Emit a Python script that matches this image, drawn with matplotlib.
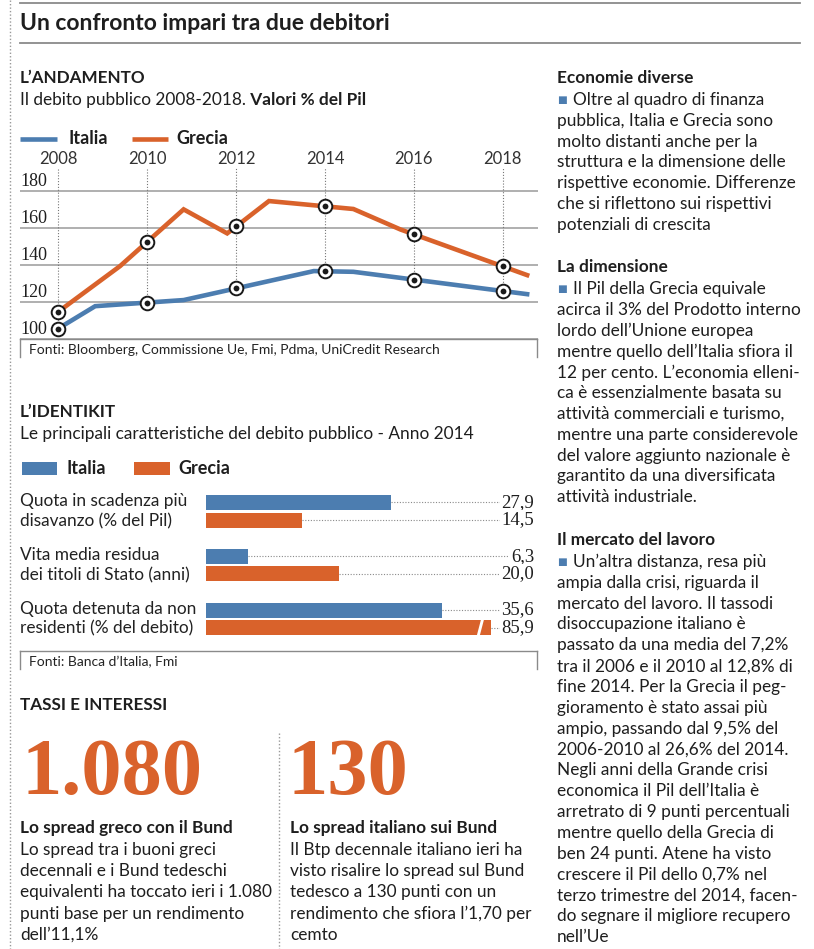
import matplotlib
matplotlib.use('Agg')
import matplotlib.pyplot as plt
from matplotlib import transforms
from matplotlib.lines import Line2D
from matplotlib.patches import Rectangle, Polygon
import numpy as np

W, H = 814, 949

# --- L'ANDAMENTO: debito pubblico, valori % del Pil (vertici)
italia_x = [2008, 2008.83, 2010.82, 2013.75, 2014.64, 2018.55]
italia_y = [105.4, 117.5, 120.8, 136.5, 136.1, 124.0]
grecia_x = [2008, 2009.39, 2010.82, 2011.8, 2012.74, 2014.64, 2015.7, 2018.55]
grecia_y = [114.5, 139.2, 169.9, 156.9, 174.4, 170.1, 159.0, 134.3]
anni_tick = [2008, 2010, 2012, 2014, 2016, 2018]
y_ticks = [100, 120, 140, 160, 180]

# --- L'IDENTIKIT: anno 2014
voci = [("Quota in scadenza più", "disavanzo (% del Pil)"),
        ("Vita media residua", "dei titoli di Stato (anni)"),
        ("Quota detenuta da non", "residenti (% del debito)")]
val_italia = [27.9, 6.3, 35.6]
val_grecia = [14.5, 20.0, 85.9]

# --- testi
col_destra = [
    ("Economie diverse", [
        "Oltre al quadro di finanza",
        "pubblica, Italia e Grecia sono",
        "molto distanti anche per la",
        "struttura e la dimensione delle",
        "rispettive economie. Differenze",
        "che si riflettono sui rispettivi",
        "potenziali di crescita"]),
    ("La dimensione", [
        "Il Pil della Grecia equivale",
        "acirca il 3% del Prodotto interno",
        "lordo dell’Unione europea",
        "mentre quello dell’Italia sfiora il",
        "12 per cento. L’economia elleni-",
        "ca è essenzialmente basata su",
        "attività commerciali e turismo,",
        "mentre una parte considerevole",
        "del valore aggiunto nazionale è",
        "garantito da una diversificata",
        "attività industriale."]),
    ("Il mercato del lavoro", [
        "Un’altra distanza, resa più",
        "ampia dalla crisi, riguarda il",
        "mercato del lavoro. Il tassodi",
        "disoccupazione italiano è",
        "passato da una media del 7,2%",
        "tra il 2006 e il 2010 al 12,8% di",
        "fine 2014. Per la Grecia il peg-",
        "gioramento è stato assai più",
        "ampio, passando dal 9,5% del",
        "2006-2010 al 26,6% del 2014.",
        "Negli anni della Grande crisi",
        "economica il Pil dell’Italia è",
        "arretrato di 9 punti percentuali",
        "mentre quello della Grecia di",
        "ben 24 punti. Atene ha visto",
        "crescere il Pil dello 0,7% nel",
        "terzo trimestre del 2014, facen-",
        "do segnare il migliore recupero",
        "nell’Ue"]),
]
spread_greco = ["Lo spread tra i buoni greci",
                "decennali e i Bund tedeschi",
                "equivalenti ha toccato ieri i 1.080",
                "punti base per un rendimento",
                "dell’11,1%"]
spread_italia = ["Il Btp decennale italiano ieri ha",
                 "visto risalire lo spread sul Bund",
                 "tedesco a 130 punti con un",
                 "rendimento che sfiora l’1,70 per",
                 "cemto"]

BLUE = '#4c7db0'
ORANGE = '#d9622b'
DARK = '#1e1e1e'
GRID = '#9a9a9a'
SANS = ['Lato', 'DejaVu Sans']
SERIF = ['Liberation Serif', 'DejaVu Serif']
BODY = 12.4
HEAD = 12.3


def fx(x):
    return x / W


def fy(y):
    return 1 - y / H


fig = plt.figure(figsize=(W / 100, H / 100), dpi=100)


def txt(x, y, s, size=BODY, weight='normal', color=DARK, family=SANS, **kw):
    kw.setdefault('va', 'center')
    return fig.text(fx(x), fy(y), s, fontsize=size, fontweight=weight,
                    color=color, family=family, **kw)


def hline(x0, x1, y, **kw):
    fig.add_artist(Line2D([fx(x0), fx(x1)], [fy(y), fy(y)], **kw))


def vline(x, y0, y1, **kw):
    fig.add_artist(Line2D([fx(x), fx(x)], [fy(y0), fy(y1)], **kw))


# cornice
vline(10, 0, H, color='#999999', lw=1, ls=(0, (1, 1.5)))
hline(20, 800, 3, color='#8a8a8a', lw=1.3)
hline(20, 800, 43, color='#8a8a8a', lw=1.3)
txt(20, 23, "Un confronto impari tra due debitori", size=16.5, weight='bold')

# ---------------- L'ANDAMENTO
txt(20, 78, "L’ANDAMENTO", size=HEAD, weight='bold')
t1 = txt(20, 100, "Il debito pubblico 2008-2018.")
fig.add_artist(plt.Annotation(" Valori % del Pil", xy=(1, 0), xycoords=t1,
                              va='bottom', ha='left', fontsize=BODY,
                              fontweight='bold', color=DARK, family=SANS))

hline(20, 57, 139, color=BLUE, lw=3.3, solid_capstyle='butt')
txt(68, 139, "Italia", size=13, weight='bold')
hline(132, 168, 139, color=ORANGE, lw=3.3, solid_capstyle='butt')
txt(176, 139, "Grecia", size=13, weight='bold')

top_px, bot_px = 168, 338.5
ax = fig.add_axes([fx(20), fy(bot_px), fx(540) - fx(20), (bot_px - top_px) / H])
x0 = 2008 + (20 - 58.3) / 44.44
x1 = 2008 + (540 - 58.3) / 44.44
ax.set_xlim(x0, x1)
ymax = 100 + (bot_px - top_px) / 1.8475
ax.set_ylim(100, ymax)
for s in ax.spines.values():
    s.set_visible(False)
ax.set_yticks([])
ax.set_xticks(anni_tick)
ax.xaxis.tick_top()
ax.tick_params(axis='x', length=0, pad=1, labelsize=12, labelcolor='#333333')
for lab in ax.get_xticklabels():
    lab.set_family(SANS)

ax.hlines(y_ticks, x0, 2008 + (538 - 58.3) / 44.44, color=GRID, lw=1.1, zorder=1)
ylab_tr = transforms.offset_copy(
    transforms.blended_transform_factory(ax.transAxes, ax.transData),
    fig=fig, x=0, y=3.5, units='points')
for v in y_ticks:
    ax.text(0, v, str(v), transform=ylab_tr, va='baseline', ha='left',
            fontsize=13, family=SERIF, color=DARK)

ita_m = np.interp(anni_tick, italia_x, italia_y)
gre_m = np.interp(anni_tick, grecia_x, grecia_y)
ax.vlines(anni_tick, ita_m, ymax, colors='#777777', lw=0.8,
          linestyles=(0, (1, 1.6)), zorder=2)
ax.plot(italia_x, italia_y, color=BLUE, lw=3.3, zorder=3, solid_joinstyle='miter')
ax.plot(grecia_x, grecia_y, color=ORANGE, lw=3.3, zorder=3, solid_joinstyle='miter')
for m in (ita_m, gre_m):
    ax.plot(anni_tick, m, 'o', ms=9.8, mfc='white', mec='#1a1a1a', mew=1.4, zorder=4)
    ax.plot(anni_tick, m, 'o', ms=4.2, color='#1a1a1a', mew=0, zorder=5)

# box fonti
for yb, fonte in ((339, "Fonti: Bloomberg, Commissione Ue, Fmi, Pdma, UniCredit Research"),
                  (651, "Fonti: Banca d’Italia, Fmi")):
    hline(20, 537, yb, color='#8a8a8a', lw=1)
    vline(20, yb, yb + 18, color='#8a8a8a', lw=1)
    vline(537, yb, yb + 18, color='#8a8a8a', lw=1)
    txt(29, yb + 11, fonte, size=10, color='#222222')

# ---------------- L'IDENTIKIT
txt(20, 412, "L’IDENTIKIT", size=HEAD, weight='bold')
txt(20, 434, "Le principali caratteristiche del debito pubblico - Anno 2014")
fig.add_artist(Rectangle((fx(22), fy(475)), fx(57) - fx(22), (475 - 462) / H,
                         color=BLUE, lw=0))
txt(66, 469, "Italia", size=13, weight='bold')
fig.add_artist(Rectangle((fx(134), fy(475)), fx(170) - fx(134), (475 - 462) / H,
                         color=ORANGE, lw=0))
txt(178, 469, "Grecia", size=13, weight='bold')

gap = 53.85
off = 17.7 / gap
bh = 15 / gap
ax2 = fig.add_axes([fx(205.7), fy(640), fx(534) - fx(205.7), 150 / H])
xmax = (534 - 205.7) / 6.65
cap = (491 - 205.7) / 6.65
ax2.set_xlim(0, xmax)
ax2.set_ylim((640 - 502.3) / gap, (490 - 502.3) / gap)
ax2.axis('off')
yi = np.arange(len(voci))
for vals, yy, col in ((val_italia, yi, BLUE), (val_grecia, yi + off, ORANGE)):
    shown = np.minimum(vals, cap)
    ax2.barh(yy, shown, height=bh, color=col, lw=0, zorder=2)
    for v, s, y in zip(vals, shown, yy):
        ax2.plot([s, xmax], [y, y], color='#8a8a8a', lw=0.8,
                 ls=(0, (1, 1.5)), zorder=1)
        ax2.text(xmax, y, f"{v:.1f}".replace('.', ','), ha='right', va='center',
                 family=SERIF, fontsize=13.5, color=DARK, zorder=3,
                 bbox=dict(fc='white', ec='none', pad=1.2))
        if v > cap:
            hh = bh / 2 * 1.1
            ax2.add_patch(Polygon([(s - 2.15, y + hh), (s - 1.7, y + hh),
                                   (s - 1.05, y - hh), (s - 1.5, y - hh)],
                                  closed=True, fc='white', ec='none', zorder=3))

lab_tr = transforms.blended_transform_factory(fig.transFigure, ax2.transData)
for i, (a, b) in enumerate(voci):
    yc = i + off / 2
    for s, dy in ((a, 7.2), (b, -7.2)):
        fig.text(fx(20), yc, s,
                 transform=transforms.offset_copy(lab_tr, fig=fig, y=dy, units='points'),
                 va='center', ha='left', fontsize=BODY, family=SANS, color='#222222')

# ---------------- TASSI E INTERESSI
txt(20, 705, "TASSI E INTERESSI", size=HEAD, weight='bold')
vline(279, 733, H, color='#999999', lw=1, ls=(0, (1, 1.5)))
txt(21, 794, "1.080", size=58, weight='bold', family=SERIF, color=ORANGE, va='baseline')
txt(288, 794, "130", size=58, weight='bold', family=SERIF, color=ORANGE, va='baseline')
for xc, head, lines in ((20, "Lo spread greco con il Bund", spread_greco),
                        (290, "Lo spread italiano sui Bund", spread_italia)):
    txt(xc, 828, head, weight='bold')
    for k, s in enumerate(lines):
        txt(xc, 850 + k * 21.25, s)

# ---------------- colonna destra
step = 20.83
ystart = [78, 267, 540]
for (head, lines), y0 in zip(col_destra, ystart):
    txt(557, y0, head, weight='bold')
    for k, s in enumerate(lines):
        yl = y0 + 22 + k * step
        if k == 0:
            txt(557, yl, "■", size=7.5, color=BLUE, family=['DejaVu Sans'])
            txt(573, yl, s)
        else:
            txt(557, yl, s)

fig.savefig('out.png', dpi=100)
